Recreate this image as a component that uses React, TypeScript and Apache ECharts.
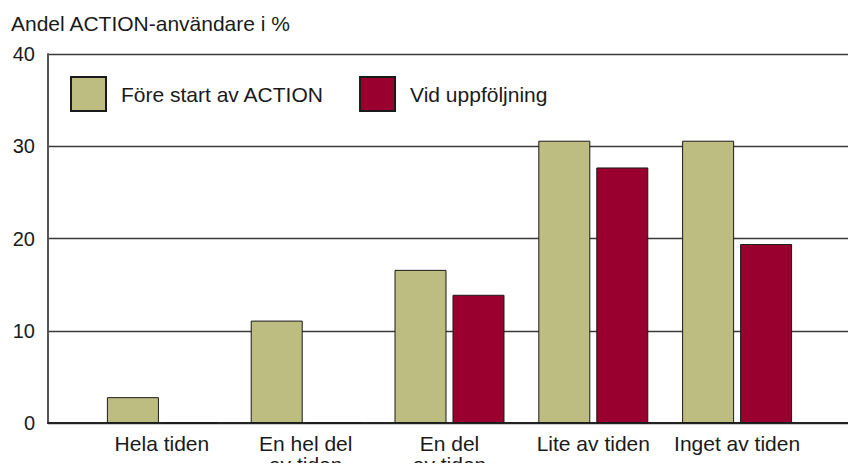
import React, { useEffect, useRef } from "react";
import * as echarts from "echarts";

const categories = ["Hela tiden", "En hel del\nav tiden", "En del\nav tiden", "Lite av tiden", "Inget av tiden"];
const seriesNames = ["Före start av ACTION", "Vid uppföljning"];
const beforeValues = [2.8, 11.1, 16.6, 30.6, 30.6];
const followUpValues = [0, 0, 13.9, 27.7, 19.4];
const yTicks = { min: 0, max: 40, interval: 10 };
const yTitle = "Andel ACTION-användare i %";

const FONT = "'Liberation Sans', Arial, Helvetica, sans-serif";

export default function App() {
  const ref = useRef<HTMLDivElement>(null);
  useEffect(() => {
    if (!ref.current) return;
    const chart = echarts.init(ref.current, undefined, { renderer: "svg" });
    chart.setOption({
      animation: false,
      backgroundColor: "#ffffff",
      textStyle: { fontFamily: FONT },
      title: {
        text: yTitle,
        left: 11,
        top: 13,
        padding: 0,
        textStyle: { fontFamily: FONT, fontSize: 21, fontWeight: "normal", color: "#1a1a1a" },
      },
      legend: {
        left: 70,
        top: 76,
        padding: 0,
        icon: "rect",
        itemWidth: 35,
        itemHeight: 34,
        itemGap: 35,
        selectedMode: false,
        textStyle: { fontFamily: FONT, fontSize: 21, color: "#1a1a1a", padding: [0, 0, 0, 10] },
        data: seriesNames,
      },
      grid: [
        { left: 48, right: 0, top: 54, bottom: 48, outerBoundsMode: "none", containLabel: false },
        { left: 90, right: 47, top: 54, bottom: 48, outerBoundsMode: "none", containLabel: false },
      ],
      xAxis: [
        {
          gridIndex: 0,
          type: "category",
          data: categories,
          axisLine: { show: true, lineStyle: { color: "#222", width: 2 } },
          axisTick: { show: false },
          axisLabel: { show: false },
          splitLine: { show: false },
        },
        {
          gridIndex: 1,
          type: "category",
          data: categories,
          axisLine: { show: false },
          axisTick: { show: false },
          axisLabel: {
            fontFamily: FONT,
            fontSize: 21,
            lineHeight: 21,
            color: "#1a1a1a",
            margin: 10,
            interval: 0,
          },
        },
      ],
      yAxis: [
        {
          gridIndex: 0,
          type: "value",
          min: yTicks.min,
          max: yTicks.max,
          interval: yTicks.interval,
          axisLine: { show: true, lineStyle: { color: "#555", width: 2 } },
          axisTick: { show: false },
          axisLabel: { fontFamily: FONT, fontSize: 20, color: "#1a1a1a", margin: 13 },
          splitLine: { show: true, lineStyle: { color: "#3a3a3a", width: 1.3 } },
        },
        {
          gridIndex: 1,
          type: "value",
          min: yTicks.min,
          max: yTicks.max,
          interval: yTicks.interval,
          show: false,
          splitLine: { show: false },
        },
      ],
      series: [
        {
          name: seriesNames[0],
          type: "bar",
          xAxisIndex: 1,
          yAxisIndex: 1,
          data: beforeValues,
          barWidth: 52,
          barGap: "11.5%",
          itemStyle: { color: "#bdbd82", borderColor: "#1a1a1a", borderWidth: 1 },
        },
        {
          name: seriesNames[1],
          type: "bar",
          xAxisIndex: 1,
          yAxisIndex: 1,
          data: followUpValues,
          barWidth: 52,
          barGap: "11.5%",
          itemStyle: { color: "#990030", borderColor: "#1a1a1a", borderWidth: 1 },
        },
      ],
    });
    return () => chart.dispose();
  }, []);
  return <div ref={ref} style={{ width: 856, height: 471, margin: -8 }} />;
}
